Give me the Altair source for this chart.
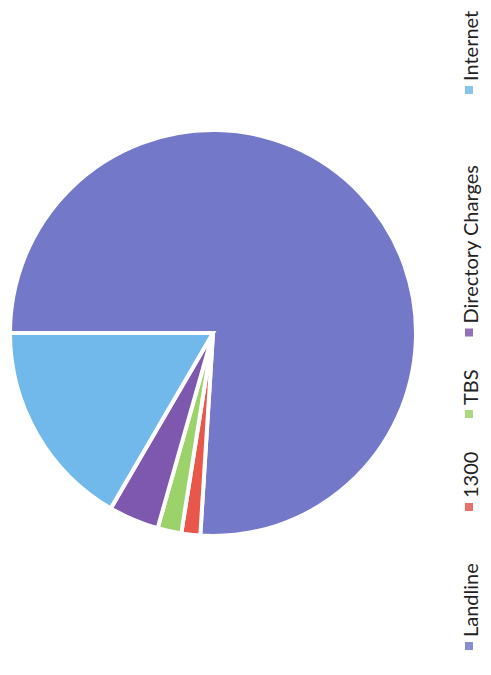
import altair as alt
import pandas as pd
import math

categories = ["Landline", "1300", "TBS", "Directory Charges", "Internet"]
shares = [76.0, 1.5, 1.9, 4.0, 16.6]
colors = ["#7378c8", "#e8574a", "#9bd26a", "#7d58ae", "#71b9ea"]

df = pd.DataFrame({"category": categories, "share": shares, "idx": list(range(len(categories)))})

start = 1.5 * math.pi
color_scale = alt.Scale(domain=categories, range=colors)

pie = alt.Chart(df).mark_arc(radius=203, stroke="white", strokeWidth=4).encode(
    theta=alt.Theta("share:Q", stack=True, scale=alt.Scale(range=[start, start + 2 * math.pi])),
    order=alt.Order("idx:Q"),
    color=alt.Color("category:N", scale=color_scale, legend=None),
    x=alt.value(205),
    y=alt.value(325),
)

legend_base = alt.Chart(df).transform_calculate(
    w="length(datum.category) * 11.5 + 47"
).transform_window(
    cum="sum(w)", sort=[alt.SortField("idx")], frame=[None, 0]
).transform_calculate(
    ys="638 - (datum.cum - datum.w)",
    yt="638 - (datum.cum - datum.w) - 9",
)

squares = legend_base.mark_square(size=64, opacity=0.85).encode(
    x=alt.value(461),
    y=alt.Y("ys:Q", scale=None),
    color=alt.Color("category:N", scale=color_scale, legend=None),
)

labels = legend_base.mark_text(
    angle=270, align="left", baseline="alphabetic", font="Lato", fontSize=20, color="#222222"
).encode(
    x=alt.value(470),
    y=alt.Y("yt:Q", scale=None),
    text="category:N",
)

chart = alt.layer(pie, squares, labels).properties(
    width=475, height=659, padding=0,
    autosize=alt.AutoSizeParams(type="none"),
).configure_view(stroke=None)

chart.save("out.html", embed_options={"renderer": "svg", "actions": False})
